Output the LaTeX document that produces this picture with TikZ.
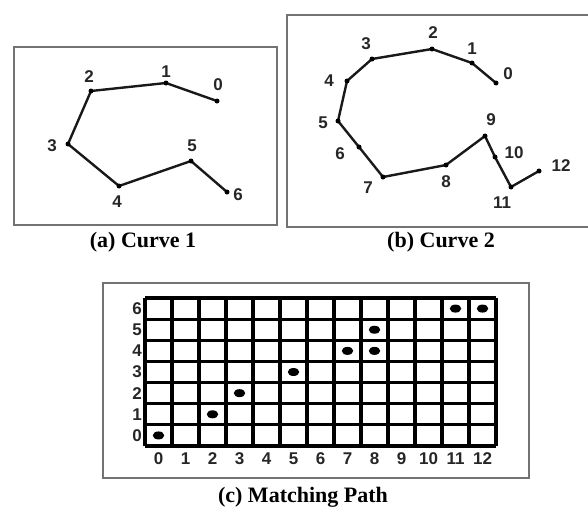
\documentclass[tikz,border=0pt]{standalone}
\usepackage{fontspec}
\setmainfont{Liberation Serif}
\newfontfamily\sansb{Liberation Sans}
\usetikzlibrary{shapes.geometric}
\tikzset{
  frame/.style={draw=black!55, line width=2pt},
  curve/.style={draw=black!90, line width=2.4pt, line join=round, line cap=round},
  vdot/.style={circle, fill=black, inner sep=0pt, minimum size=5pt},
  lbl/.style={font=\sansb\bfseries\fontsize{17}{17}\selectfont, text=black!85, inner sep=0pt},
  captxt/.style={font=\bfseries\fontsize{22}{22}\selectfont, inner sep=0pt},
  gline/.style={draw=black, line width=3.2pt},
  gdot/.style={ellipse, fill=black, inner sep=0pt, minimum width=11.5pt, minimum height=8pt},
}
\begin{document}
\begin{tikzpicture}[x=1pt,y=-1pt]
\useasboundingbox (0,0) rectangle (588,506);
% frames
\draw[frame] (14,47) rectangle (277,225);
\draw[frame] (588,15) -- (287,15) -- (287,227) -- (588,227);
\draw[frame] (103,283) rectangle (529,478);

% Curve 1
\coordinate (a0) at (217,101);
\coordinate (a1) at (166,83);
\coordinate (a2) at (91,91);
\coordinate (a3) at (68,144);
\coordinate (a4) at (119,186);
\coordinate (a5) at (191,161);
\coordinate (a6) at (227,192);
\draw[curve] (a0) -- (a1) -- (a2) -- (a3) -- (a4) -- (a5) -- (a6);
\foreach \i in {0,...,6} \node[vdot] (da\i) at (a\i) {};
\node[lbl] (la0) at (218,85) {0};
\node[lbl] (la1) at (166,72) {1};
\node[lbl] (la2) at (89,77) {2};
\node[lbl] (la3) at (52,146) {3};
\node[lbl] (la4) at (117,202) {4};
\node[lbl] (la5) at (192,146) {5};
\node[lbl] (la6) at (238,195) {6};

% Curve 2
\coordinate (b0) at (496,83);
\coordinate (b1) at (472,63);
\coordinate (b2) at (432,49);
\coordinate (b3) at (372,59);
\coordinate (b4) at (347,81);
\coordinate (b5) at (338,121);
\coordinate (b6) at (359,147);
\coordinate (b7) at (383,177);
\coordinate (b8) at (446,165);
\coordinate (b9) at (485,136);
\coordinate (b10) at (495,157);
\coordinate (b11) at (511,187);
\coordinate (b12) at (539,171);
\draw[curve] (b0) -- (b1) -- (b2) -- (b3) -- (b4) -- (b5) -- (b6) -- (b7) -- (b8) -- (b9) -- (b10) -- (b11) -- (b12);
\foreach \i in {0,...,12} \node[vdot] (db\i) at (b\i) {};
\node[lbl] (lb0) at (508,74) {0};
\node[lbl] (lb1) at (472,49) {1};
\node[lbl] (lb2) at (433,33) {2};
\node[lbl] (lb3) at (366,44) {3};
\node[lbl] (lb4) at (329,81) {4};
\node[lbl] (lb5) at (323,123) {5};
\node[lbl] (lb6) at (340,154) {6};
\node[lbl] (lb7) at (368,188) {7};
\node[lbl] (lb8) at (446,182) {8};
\node[lbl] (lb9) at (491,120) {9};
\node[lbl] (lb10) at (514,153) {10};
\node[lbl] (lb11) at (502,203) {11};
\node[lbl] (lb12) at (561,166) {12};

% captions
\node[captxt] (capa) at (143,242) {(a) Curve 1};
\node[captxt] (capb) at (441,242) {(b) Curve 2};
\node[captxt] (capc) at (303,497) {(c) Matching Path};

% grid
\foreach \i in {0,...,13} \draw[gline] ({145+27*\i},298) -- ({145+27*\i},446);
\foreach \j in {0,...,7} \draw[gline] (145,{446-148/7*\j}) -- (496,{446-148/7*\j});
\foreach \i in {0,...,12} \node[lbl] (cx\i) at ({145+27*(\i+0.5)},459) {\i};
\foreach \j in {0,...,6} \node[lbl] (ry\j) at (137,{446-148/7*(\j+0.5)}) {\j};
\foreach \i/\j in {0/0,2/1,3/2,5/3,7/4,8/4,8/5,11/6,12/6}
  \node[gdot] (m\i-\j) at ({145+27*(\i+0.5)},{446-148/7*(\j+0.5)}) {};
\end{tikzpicture}
\end{document}
